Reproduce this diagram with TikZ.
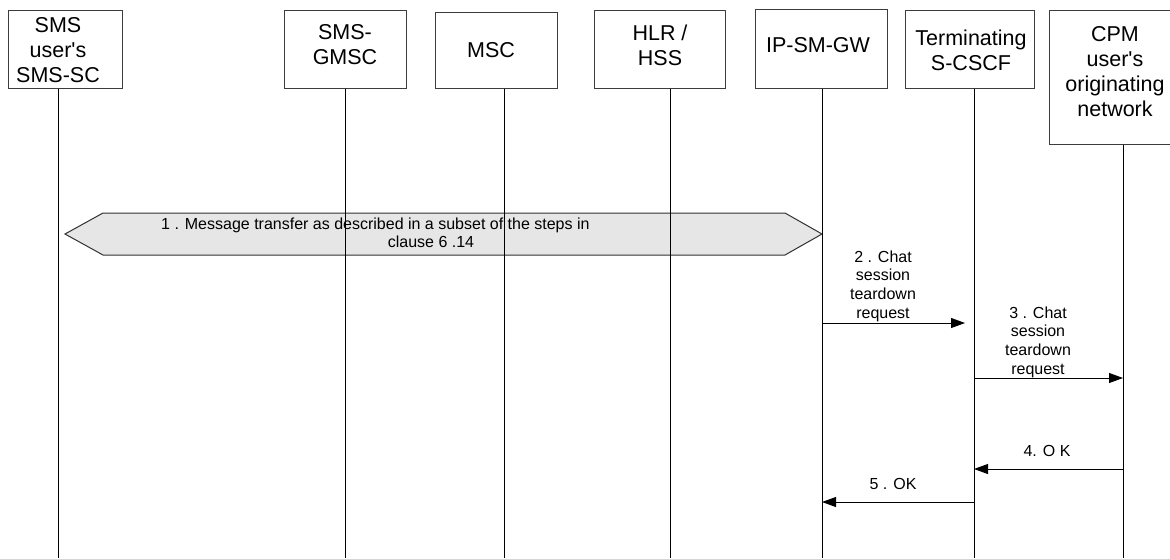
\documentclass[tikz,border=0pt]{standalone}
\usepackage{fontspec}
\setmainfont{Liberation Sans}[Ligatures=TeXOff]
\usetikzlibrary{arrows.meta}
\definecolor{boxc}{RGB}{60,60,60}
\definecolor{hexfill}{RGB}{230,230,230}
\definecolor{hexline}{RGB}{50,50,50}
\begin{document}
\begin{tikzpicture}[x=1pt,y=-1pt,
  entbox/.style={draw=boxc, line width=1pt, inner sep=0pt},
  enttext/.style={align=center, inner sep=0pt, font=\fontsize{21.5}{25}\selectfont},
  life/.style={draw=black, line width=0.9pt},
  msg/.style={draw=black, line width=0.9pt, -{Triangle[length=14pt,width=10pt]}},
  msglabel/.style={align=center, inner sep=0pt, font=\fontsize{16}{18.7}\selectfont},
  hexstyle/.style={draw=hexline, fill=hexfill, line width=1pt, line join=miter}
]
\useasboundingbox (0,0) rectangle (1170,558);
\fill[white] (0,0) rectangle (1170,558);

% entity boxes
\node[entbox, minimum width=114pt, minimum height=78pt] (smsc) at (65,49) {};
\node[entbox, minimum width=122pt, minimum height=78pt] (gmsc) at (345,49) {};
\node[entbox, minimum width=122pt, minimum height=76pt] (msc) at (496,50) {};
\node[entbox, minimum width=131pt, minimum height=78pt] (hlr) at (659.5,49) {};
\node[entbox, minimum width=132pt, minimum height=79pt] (ipsm) at (821,48.5) {};
\node[entbox, minimum width=129pt, minimum height=78pt] (scscf) at (969.5,49) {};
\node[entbox, minimum width=133pt, minimum height=134pt] (cpm) at (1115.5,77) {};

\node[enttext] (smsct) at (58,50) {SMS\\user's\\SMS-SC};
\node[enttext] (gmsct) at (345,45) {SMS-\\GMSC};
\node[enttext] (msct) at (491,50) {MSC};
\node[enttext] (hlrt) at (660,45) {HLR /\\HSS};
\node[enttext] (ipsmt) at (818,45) {IP-SM-GW};
\node[enttext] (scscft) at (971,50) {Terminating\\S-CSCF};
\node[enttext] (cpmt) at (1115,72) {CPM\\user's\\originating\\network};

% step 1 hexagon
\draw[hexstyle] (65,234) -- (103,213) -- (785,213) -- (822,234) -- (785,255) -- (103,255) -- cycle;
\node[msglabel, anchor=west] (s1a) at (161,225) {1 . Message transfer as described in a subset of the steps in};
\node[msglabel] (s1b) at (431,242) {clause 6 .14};

% lifelines
\coordinate (smscend) at (58,558);
\coordinate (gmscend) at (345,558);
\coordinate (mscend) at (504,558);
\coordinate (hlrend) at (670,558);
\coordinate (ipsmend) at (822,558);
\coordinate (scscfend) at (974,558);
\coordinate (cpmend) at (1123,558);
\draw[life] (smsc.south -| smscend) -- (smscend);
\draw[life] (gmsc.south -| gmscend) -- (gmscend);
\draw[life] (msc.south -| mscend) -- (mscend);
\draw[life] (hlr.south -| hlrend) -- (hlrend);
\draw[life] (ipsm.south -| ipsmend) -- (ipsmend);
\draw[life] (scscf.south -| scscfend) -- (scscfend);
\draw[life] (cpm.south -| cpmend) -- (cpmend);

% messages
\coordinate (m2s) at (822,323);
\coordinate (m2e) at (965,323);
\coordinate (m3s) at (974,378);
\coordinate (m3e) at (1123,378);
\coordinate (m4s) at (1123,469);
\coordinate (m4e) at (974,469);
\coordinate (m5s) at (974,502);
\coordinate (m5e) at (822,502);
\draw[msg] (m2s) -- (m2e);
\draw[msg] (m3s) -- (m3e);
\draw[msg] (m4s) -- (m4e);
\draw[msg] (m5s) -- (m5e);

\node[msglabel] (l2) at (883,286) {2 . Chat\\session\\teardown\\request};
\node[msglabel] (l3) at (1038,342) {3 . Chat\\session\\teardown\\request};
\node[msglabel] (l4) at (1047,451) {4. O K};
\node[msglabel] (l5) at (893,484) {5 . OK};
\end{tikzpicture}
\end{document}
